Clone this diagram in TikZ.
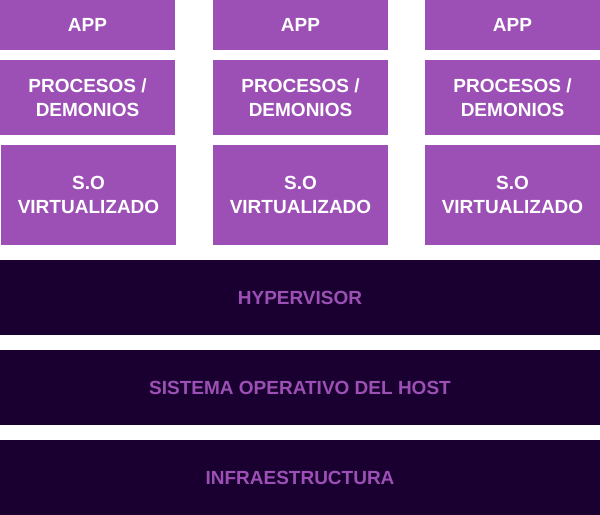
\documentclass[tikz,border=0pt]{standalone}
\usepackage{fontspec}
\setmainfont{Liberation Sans}
\definecolor{lilac}{HTML}{9C50B5}
\definecolor{night}{HTML}{1A0030}
\begin{document}
\begin{tikzpicture}[x=1bp,y=-1bp,
  every node/.style={inner sep=0pt,outer sep=0pt,align=center,
    font=\fontsize{19bp}{23.5bp}\selectfont\bfseries},
  guest/.style={fill=lilac,text=white,minimum width=175bp},
  layer/.style={fill=night,text=lilac,minimum width=600bp,minimum height=75bp}]
\useasboundingbox (0,0) rectangle (600,515);
% guest stacks, one column per virtual machine
\foreach \i/\cx in {1/87.5,2/300.5,3/512.5}{
  \node[guest,minimum height=50bp] (app\i) at (\cx,25) {APP};
  \node[guest,minimum height=75bp] (proc\i) at (\cx,97.5) {PROCESOS /\\DEMONIOS};
}
\node[guest,minimum height=100bp] (so1) at (88.5,195) {S.O\\VIRTUALIZADO};
\node[guest,minimum height=100bp] (so2) at (300.5,195) {S.O\\VIRTUALIZADO};
\node[guest,minimum height=100bp] (so3) at (512.5,195) {S.O\\VIRTUALIZADO};
% shared host layers
\node[layer] (hyp) at (300,297.5) {HYPERVISOR};
\node[layer] (host) at (300,387.5) {SISTEMA OPERATIVO DEL HOST};
\node[layer] (infra) at (300,477.5) {INFRAESTRUCTURA};
\end{tikzpicture}
\end{document}
